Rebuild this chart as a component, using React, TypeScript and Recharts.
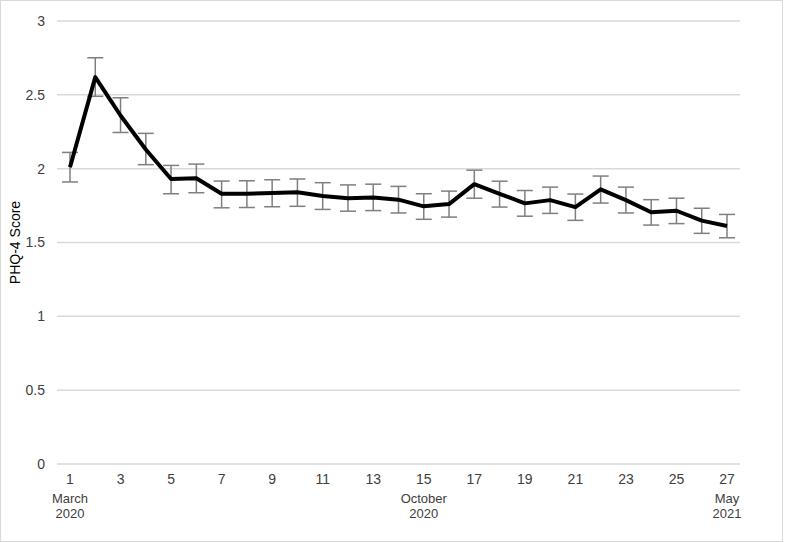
import { LineChart, Line, XAxis, YAxis, CartesianGrid, ErrorBar } from "recharts";

const waves = [1, 2, 3, 4, 5, 6, 7, 8, 9, 10, 11, 12, 13, 14, 15, 16, 17, 18, 19, 20, 21, 22, 23, 24, 25, 26, 27];
const scores = [
  2.01, 2.62, 2.36, 2.13, 1.93, 1.935, 1.83, 1.83, 1.835, 1.84, 1.815, 1.8, 1.805, 1.79,
  1.745, 1.76, 1.895, 1.83, 1.765, 1.787, 1.74, 1.86, 1.787, 1.705, 1.715, 1.648, 1.612,
];
const lower = [
  1.91, 2.49, 2.245, 2.027, 1.83, 1.837, 1.735, 1.737, 1.742, 1.745, 1.724, 1.712, 1.716, 1.7,
  1.657, 1.672, 1.8, 1.74, 1.678, 1.697, 1.65, 1.767, 1.7, 1.618, 1.628, 1.562, 1.532,
];
const upper = [
  2.11, 2.751, 2.48, 2.239, 2.022, 2.031, 1.916, 1.918, 1.925, 1.93, 1.905, 1.89, 1.895, 1.88,
  1.83, 1.848, 1.99, 1.915, 1.852, 1.875, 1.828, 1.95, 1.875, 1.79, 1.8, 1.732, 1.69,
];
const yTicks = [0, 0.5, 1, 1.5, 2, 2.5, 3];
const markWaves = [1, 15, 27];
const markMonths = ["March", "October", "May"];
const markYears = ["2020", "2020", "2021"];

const data = waves.map((w, i) => ({
  wave: w,
  score: scores[i],
  err: [scores[i] - lower[i], upper[i] - scores[i]],
}));

const font = "'Liberation Sans', Arial, sans-serif";
const textColor = "#404040";

function WaveTick(props: any) {
  const { x, y, payload } = props;
  const k = markWaves.indexOf(payload.value);
  return (
    <g transform={`translate(${x},${y})`}>
      <text textAnchor="middle" dy="0.71em" fontSize={14} fontFamily={font} fill={textColor}>
        {payload.value}
      </text>
      {k >= 0 && (
        <text textAnchor="middle" fontSize={13} fontFamily={font} fill={textColor}>
          <tspan x={0} y={20} dy="0.71em">{markMonths[k]}</tspan>
          <tspan x={0} y={35} dy="0.71em">{markYears[k]}</tspan>
        </text>
      )}
    </g>
  );
}

export default function App() {
  return (
    <div
      style={{
        position: "absolute",
        left: 0,
        top: 0,
        width: 783,
        height: 542,
        border: "1px solid #d9d9d9",
        boxSizing: "border-box",
        background: "#fff",
      }}
    >
      <LineChart
        width={781}
        height={540}
        data={data}
        margin={{ top: 20, right: 42, left: 0, bottom: 17 }}
      >
        <CartesianGrid vertical={false} stroke="#d9d9d9" strokeWidth={1.5} />
        <XAxis
          dataKey="wave"
          interval={1}
          axisLine={false}
          tickLine={false}
          tickMargin={4}
          height={60}
          padding={{ left: 13, right: 13 }}
          tick={<WaveTick />}
        />
        <YAxis
          domain={[0, 3]}
          ticks={yTicks}
          width={56}
          axisLine={false}
          tickLine={false}
          tickMargin={6}
          tick={{ fontSize: 14, fontFamily: font, fill: textColor }}
          label={{
            value: "PHQ-4 Score",
            angle: -90,
            position: "center",
            dx: -14,
            style: { fontSize: 14, fontFamily: font, fill: "#000" },
          }}
        />
        <Line dataKey="score" stroke="none" dot={false} isAnimationActive={false}>
          <ErrorBar
            dataKey="err"
            direction="y"
            width={8}
            stroke="#7f7f7f"
            strokeWidth={1.5}
            isAnimationActive={false}
          />
        </Line>
        <Line
          dataKey="score"
          type="linear"
          stroke="#000"
          strokeWidth={4}
          strokeLinejoin="round"
          dot={false}
          isAnimationActive={false}
        />
      </LineChart>
    </div>
  );
}
